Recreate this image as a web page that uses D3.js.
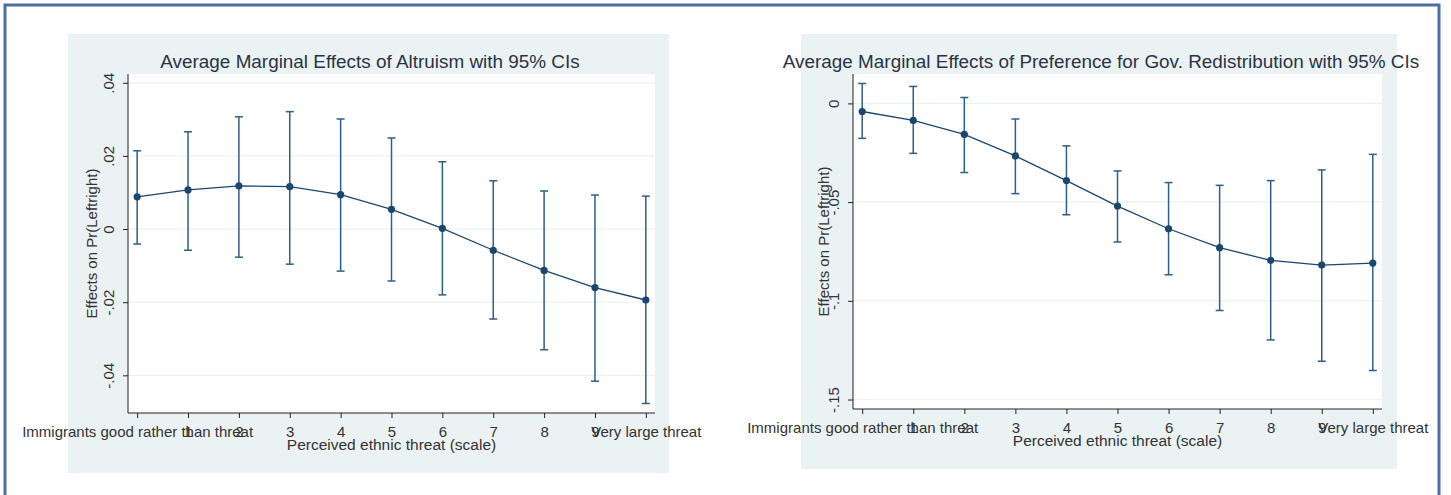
<!DOCTYPE html>
<html>
<head>
<meta charset="utf-8">
<script src="https://cdn.jsdelivr.net/npm/d3@7"></script>
<style>
  body { margin: 0; background: #fff; }
  svg { display: block; font-family: "Liberation Sans", Arial, sans-serif; }
</style>
</head>
<body>
<div id="chart"></div>
<script>
// threat scale 0..10
const threat = [0, 1, 2, 3, 4, 5, 6, 7, 8, 9, 10];
const xTickLabels = ["Immigrants good rather than threat", "1", "2", "3", "4", "5", "6", "7", "8", "9", "Very large threat"];

// altruism margins
const altruismEst = [0.0088, 0.0107, 0.0118, 0.0116, 0.0094, 0.0054, 0.0002, -0.0058, -0.0113, -0.0160, -0.0194];
const altruismLo = [-0.0041, -0.0058, -0.0077, -0.0096, -0.0115, -0.0142, -0.0180, -0.0246, -0.0330, -0.0416, -0.0477];
const altruismHi = [0.0214, 0.0266, 0.0307, 0.0321, 0.0301, 0.0249, 0.0184, 0.0132, 0.0104, 0.0093, 0.0090];
const altruismTicks = [0.04, 0.02, 0, -0.02, -0.04];
const altruismTickLabels = [".04", ".02", "0", "-.02", "-.04"];

// redistribution margins
const redistEst = [-0.0041, -0.0086, -0.0157, -0.0266, -0.0391, -0.0520, -0.0635, -0.0731, -0.0795, -0.0819, -0.0809];
const redistLo = [-0.0177, -0.0253, -0.0350, -0.0457, -0.0564, -0.0702, -0.0868, -0.1049, -0.1198, -0.1306, -0.1353];
const redistHi = [0.0101, 0.0086, 0.0030, -0.0079, -0.0215, -0.0342, -0.0401, -0.0415, -0.0391, -0.0337, -0.0258];
const redistTicks = [0, -0.05, -0.1, -0.15];
const redistTickLabels = ["0", "-.05", "-.1", "-.15"];

const W = 1451, H = 495;
const navy = "#1a476f";

const svg = d3.select("#chart").append("svg")
    .attr("width", W)
    .attr("height", H);

// outer frame
svg.append("rect")
    .attr("x", 5).attr("y", 5)
    .attr("width", 1434).attr("height", 500)
    .attr("fill", "#fff")
    .attr("stroke", "#4f6fa3")
    .attr("stroke-width", 3);

function drawPanel(cfg) {
    const g = svg.append("g");

    // panel background
    g.append("rect")
        .attr("x", cfg.bg[0]).attr("y", cfg.bg[1])
        .attr("width", cfg.bg[2]).attr("height", cfg.bg[3])
        .attr("fill", "#eaf2f3");

    const x = d3.scaleLinear().domain([-0.18, 10.18]).range([cfg.plot.left, cfg.plot.right]);
    const y = d3.scaleLinear().domain(cfg.yDomain).range([cfg.plot.bottom, cfg.plot.top]);

    // plot region
    g.append("rect")
        .attr("x", cfg.plot.left).attr("y", cfg.plot.top)
        .attr("width", cfg.plot.right - cfg.plot.left)
        .attr("height", cfg.plot.bottom - cfg.plot.top)
        .attr("fill", "#fff");

    // gridlines
    g.append("g").selectAll("line")
        .data(cfg.yTicks)
        .join("line")
        .attr("x1", cfg.plot.left).attr("x2", cfg.plot.right)
        .attr("y1", d => y(d)).attr("y2", d => y(d))
        .attr("stroke", "#eaf2f3")
        .attr("stroke-width", 1.2);

    // title
    g.append("text")
        .attr("x", cfg.titleX).attr("y", 68)
        .attr("text-anchor", "middle")
        .attr("font-size", 18.9)
        .attr("fill", "#2a3346")
        .text(cfg.title);

    // y axis
    const yAxis = d3.axisLeft(y)
        .tickValues(cfg.yTicks)
        .tickFormat((d, i) => cfg.yTickLabels[i])
        .tickSize(5)
        .tickSizeOuter(0);
    const ya = g.append("g")
        .attr("transform", `translate(${cfg.plot.left},0)`)
        .call(yAxis);
    ya.select(".domain").attr("stroke", "#222").attr("d", `M0,${cfg.plot.bottom}V${cfg.plot.top}`);
    ya.selectAll(".tick line").attr("stroke", "#222");
    ya.selectAll(".tick text")
        .attr("font-size", 15)
        .attr("fill", "#333")
        .attr("x", null).attr("dy", null)
        .attr("text-anchor", "middle")
        .attr("transform", "translate(-14,0) rotate(-90)");

    // x axis
    const xAxis = d3.axisBottom(x)
        .tickValues(threat)
        .tickFormat((d, i) => xTickLabels[i])
        .tickSize(5)
        .tickSizeOuter(0);
    const xa = g.append("g")
        .attr("transform", `translate(0,${cfg.plot.bottom})`)
        .call(xAxis);
    xa.select(".domain").attr("stroke", "#222").attr("d", `M${cfg.plot.left},0H${cfg.plot.right}`);
    xa.selectAll(".tick line").attr("stroke", "#222");
    xa.selectAll(".tick text")
        .attr("font-size", 15)
        .attr("fill", "#333")
        .attr("y", 24).attr("dy", null);

    // axis titles
    g.append("text")
        .attr("x", x(5)).attr("y", cfg.plot.bottom + 37)
        .attr("text-anchor", "middle")
        .attr("font-size", 15.5)
        .attr("fill", "#333")
        .text("Perceived ethnic threat (scale)");

    g.append("text")
        .attr("transform", `translate(${cfg.yTitleX},${(cfg.plot.top + cfg.plot.bottom) / 2}) rotate(-90)`)
        .attr("text-anchor", "middle")
        .attr("font-size", 15)
        .attr("fill", "#333")
        .text("Effects on Pr(Leftright)");

    // confidence intervals
    const ci = g.append("g")
        .attr("stroke", "#2f5e86")
        .attr("stroke-width", 1.5);
    ci.selectAll("line.v")
        .data(threat)
        .join("line")
        .attr("class", "v")
        .attr("x1", d => x(d)).attr("x2", d => x(d))
        .attr("y1", (d, i) => y(cfg.lo[i])).attr("y2", (d, i) => y(cfg.hi[i]));
    ci.selectAll("line.hc")
        .data(threat)
        .join("line")
        .attr("class", "hc")
        .attr("x1", d => x(d) - 4).attr("x2", d => x(d) + 4)
        .attr("y1", (d, i) => y(cfg.hi[i])).attr("y2", (d, i) => y(cfg.hi[i]));
    ci.selectAll("line.lc")
        .data(threat)
        .join("line")
        .attr("class", "lc")
        .attr("x1", d => x(d) - 4).attr("x2", d => x(d) + 4)
        .attr("y1", (d, i) => y(cfg.lo[i])).attr("y2", (d, i) => y(cfg.lo[i]));

    // estimate line
    const line = d3.line()
        .x((d, i) => x(threat[i]))
        .y(d => y(d));
    g.append("path")
        .datum(cfg.est)
        .attr("fill", "none")
        .attr("stroke", navy)
        .attr("stroke-width", 1.3)
        .attr("d", line);

    g.append("g")
        .attr("fill", navy)
        .selectAll("circle")
        .data(cfg.est)
        .join("circle")
        .attr("cx", (d, i) => x(threat[i]))
        .attr("cy", d => y(d))
        .attr("r", 3.6);
}

drawPanel({
    bg: [68, 34, 601, 439],
    plot: { left: 128, right: 655, top: 74, bottom: 413 },
    yDomain: [-0.0503, 0.0424],
    yTicks: altruismTicks,
    yTickLabels: altruismTickLabels,
    title: "Average Marginal Effects of Altruism with 95% CIs",
    titleX: 370,
    yTitleX: 97,
    est: altruismEst, lo: altruismLo, hi: altruismHi
});

drawPanel({
    bg: [801, 34, 596, 435],
    plot: { left: 853, right: 1382, top: 74, bottom: 409 },
    yDomain: [-0.1548, 0.0149],
    yTicks: redistTicks,
    yTickLabels: redistTickLabels,
    title: "Average Marginal Effects of Preference for Gov. Redistribution with 95% CIs",
    titleX: 1101,
    yTitleX: 829,
    est: redistEst, lo: redistLo, hi: redistHi
});
</script>
</body>
</html>
